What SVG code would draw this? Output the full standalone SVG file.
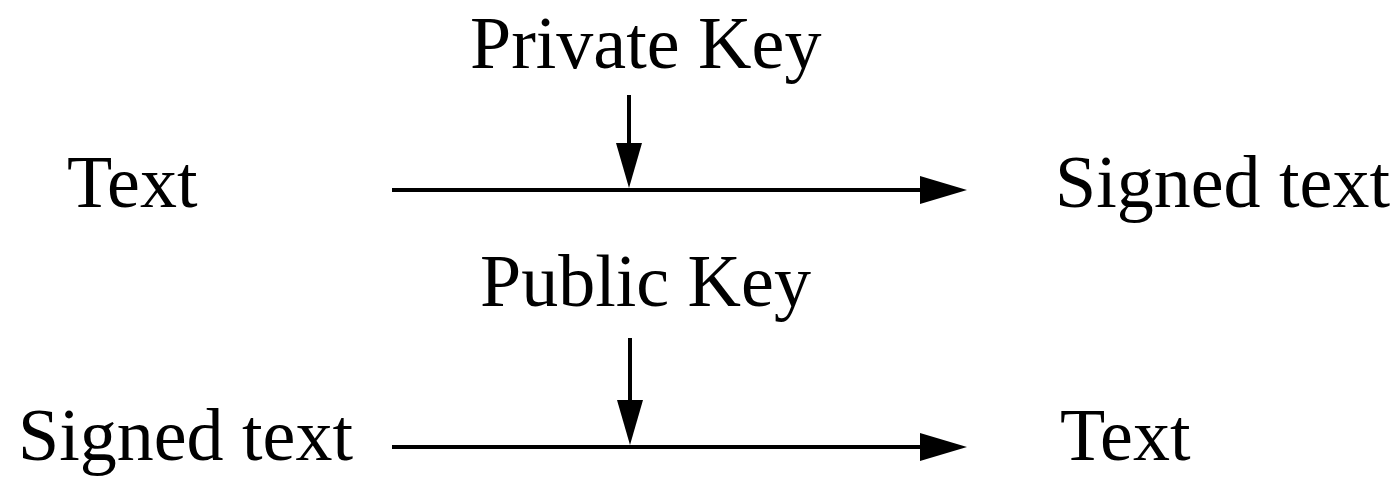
<svg xmlns="http://www.w3.org/2000/svg" width="1399" height="477" viewBox="0 0 1399 477">
<style>
text{font-family:"Liberation Serif","Times New Roman",serif;font-size:74px;fill:#000}
.ln{stroke:#000;stroke-width:4;fill:none}
.hd{fill:#000}
</style>
<rect width="1399" height="477" fill="#fff"/>
<g id="n-private-key"><text x="470" y="68">Private Key</text></g>
<g id="n-text-1"><text x="67" y="207">Text</text></g>
<g id="n-signed-1"><text x="1055" y="207">Signed text</text></g>
<g id="n-public-key"><text x="480" y="306">Public Key</text></g>
<g id="n-signed-2"><text x="18" y="460">Signed text</text></g>
<g id="n-text-2"><text x="1060" y="460">Text</text></g>
<g id="connectors">
<line class="ln" x1="392" y1="190" x2="925" y2="190"/>
<polygon class="hd" points="967,190 920,176 920,204"/>
<line class="ln" x1="629" y1="95" x2="629" y2="150"/>
<polygon class="hd" points="629,188 616,143 642,143"/>
<line class="ln" x1="392" y1="447" x2="925" y2="447"/>
<polygon class="hd" points="967,447 920,433 920,461"/>
<line class="ln" x1="630" y1="338" x2="630" y2="405"/>
<polygon class="hd" points="630,445 617,400 643,400"/>
</g>
</svg>
